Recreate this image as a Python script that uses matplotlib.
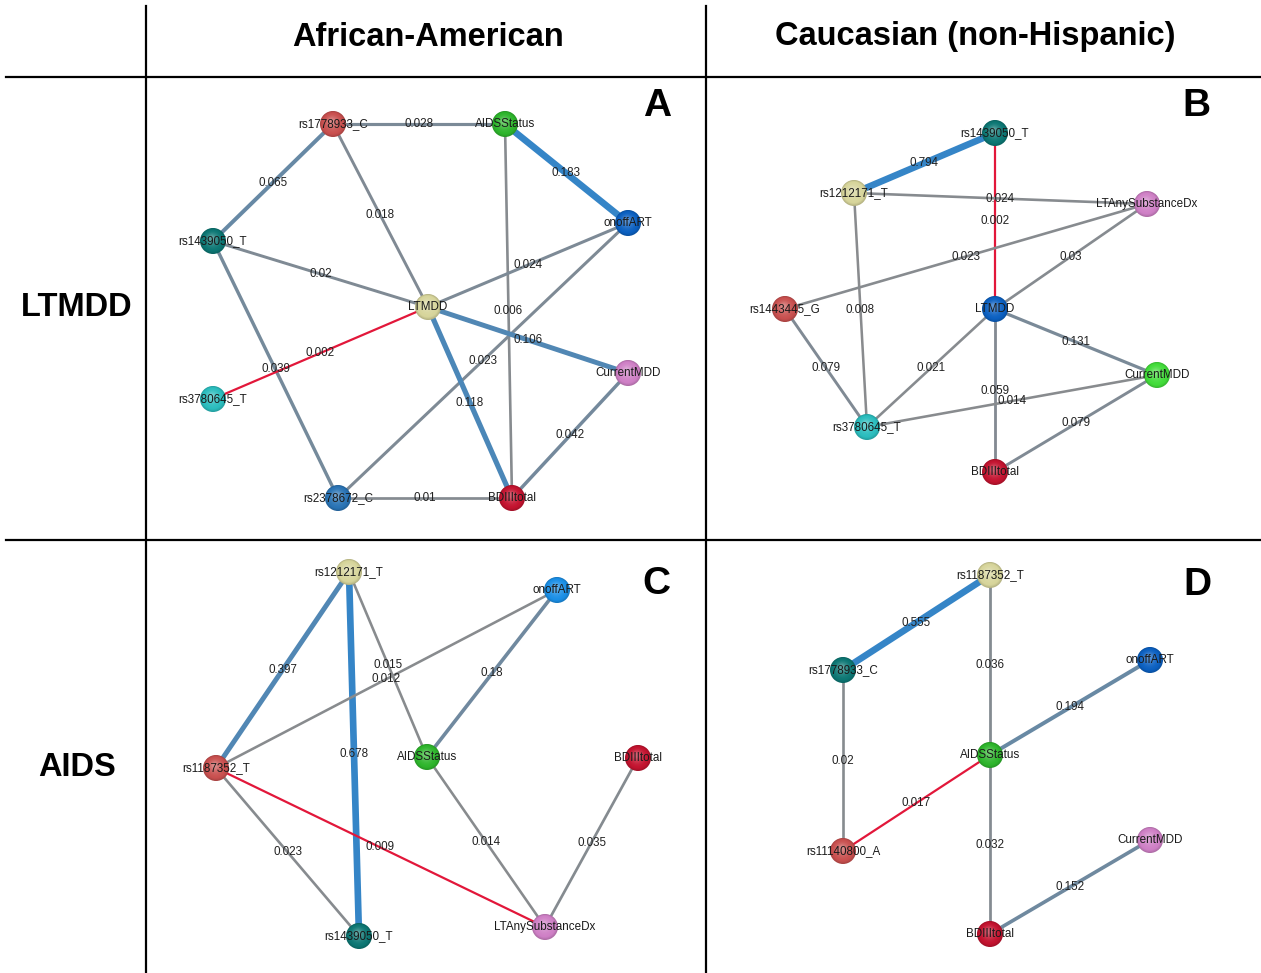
import matplotlib
matplotlib.use("Agg")
import matplotlib.pyplot as plt
from matplotlib.patches import Circle
from matplotlib.colors import to_rgb
import numpy as np

# ---------------------------------------------------------------- data
col_headers = ["African-American", "Caucasian (non-Hispanic)"]
row_headers = ["LTMDD", "AIDS"]
panel_letters = ["A", "B", "C", "D"]

# edges: (node, node, weight, sign)  sign -1 = inverse association
edges_A = [
    ("rs1778933_C", "AIDSStatus", 0.028, 1),
    ("rs1778933_C", "rs1439050_T", 0.065, 1),
    ("rs1778933_C", "LTMDD", 0.018, 1),
    ("AIDSStatus", "onoffART", 0.183, 1),
    ("AIDSStatus", "BDIIItotal", 0.006, 1),
    ("onoffART", "LTMDD", 0.024, 1),
    ("onoffART", "rs2378672_C", 0.023, 1),
    ("rs1439050_T", "LTMDD", 0.02, 1),
    ("rs1439050_T", "rs2378672_C", 0.039, 1),
    ("rs3780645_T", "LTMDD", 0.002, -1),
    ("LTMDD", "CurrentMDD", 0.106, 1),
    ("LTMDD", "BDIIItotal", 0.118, 1),
    ("CurrentMDD", "BDIIItotal", 0.042, 1),
    ("rs2378672_C", "BDIIItotal", 0.01, 1),
]
edges_B = [
    ("rs1439050_T", "rs1212171_T", 0.794, 1),
    ("rs1439050_T", "LTMDD", 0.002, -1),
    ("rs1212171_T", "LTAnySubstanceDx", 0.024, 1),
    ("rs1212171_T", "rs3780645_T", 0.008, 1),
    ("LTAnySubstanceDx", "rs1443445_G", 0.023, 1),
    ("LTAnySubstanceDx", "LTMDD", 0.03, 1),
    ("rs1443445_G", "rs3780645_T", 0.079, 1),
    ("LTMDD", "rs3780645_T", 0.021, 1),
    ("LTMDD", "CurrentMDD", 0.131, 1),
    ("LTMDD", "BDIIItotal", 0.059, 1),
    ("rs3780645_T", "CurrentMDD", 0.014, 1),
    ("CurrentMDD", "BDIIItotal", 0.079, 1),
]
edges_C = [
    ("rs1212171_T", "rs1187352_T", 0.397, 1),
    ("rs1212171_T", "rs1439050_T", 0.678, 1),
    ("rs1212171_T", "AIDSStatus", 0.015, 1),
    ("onoffART", "rs1187352_T", 0.012, 1),
    ("onoffART", "AIDSStatus", 0.18, 1),
    ("rs1187352_T", "LTAnySubstanceDx", 0.009, -1),
    ("rs1187352_T", "rs1439050_T", 0.023, 1),
    ("AIDSStatus", "LTAnySubstanceDx", 0.014, 1),
    ("BDIIItotal", "LTAnySubstanceDx", 0.035, 1),
]
edges_D = [
    ("rs1187352_T", "rs1778933_C", 0.555, 1),
    ("rs1187352_T", "AIDSStatus", 0.036, 1),
    ("rs1778933_C", "rs11140800_A", 0.02, 1),
    ("onoffART", "AIDSStatus", 0.194, 1),
    ("AIDSStatus", "rs11140800_A", 0.017, -1),
    ("AIDSStatus", "BDIIItotal", 0.032, 1),
    ("CurrentMDD", "BDIIItotal", 0.152, 1),
]

# ---------------------------------------------------------------- layout (pixel space)
layout_A = {
    "rs1778933_C": (333, 124), "AIDSStatus": (505, 124), "onoffART": (628, 223),
    "rs1439050_T": (213, 241), "LTMDD": (428, 307), "CurrentMDD": (628, 373),
    "rs3780645_T": (213, 399), "rs2378672_C": (338, 498), "BDIIItotal": (512, 498),
}
layout_B = {
    "rs1439050_T": (995, 133), "rs1212171_T": (854, 193), "LTAnySubstanceDx": (1147, 204),
    "rs1443445_G": (785, 309), "LTMDD": (995, 309), "CurrentMDD": (1157, 375),
    "rs3780645_T": (867, 427), "BDIIItotal": (995, 472),
}
layout_C = {
    "rs1212171_T": (349, 572), "onoffART": (557, 590), "rs1187352_T": (216, 768),
    "AIDSStatus": (427, 757), "BDIIItotal": (638, 758), "rs1439050_T": (359, 936),
    "LTAnySubstanceDx": (545, 927),
}
layout_D = {
    "rs1187352_T": (990, 575), "rs1778933_C": (843, 670), "onoffART": (1150, 660),
    "AIDSStatus": (990, 755), "rs11140800_A": (843, 851), "CurrentMDD": (1150, 840),
    "BDIIItotal": (990, 934),
}

# ---------------------------------------------------------------- node colours
RED, GREEN, TEAL, KHAKI = "#c9504f", "#2eb52c", "#0c7774", "#d7d59b"
ORCHID, CYAN, CRIMSON, BLUE = "#cf80c6", "#2bbdbe", "#c3132f", "#0b60c1"
colors_A = {"rs1778933_C": RED, "AIDSStatus": GREEN, "onoffART": BLUE,
            "rs1439050_T": TEAL, "LTMDD": KHAKI, "CurrentMDD": ORCHID,
            "rs3780645_T": CYAN, "rs2378672_C": "#2a74b5", "BDIIItotal": CRIMSON}
colors_B = {"rs1439050_T": TEAL, "rs1212171_T": KHAKI, "LTAnySubstanceDx": ORCHID,
            "rs1443445_G": RED, "LTMDD": BLUE, "CurrentMDD": "#42dc3a",
            "rs3780645_T": CYAN, "BDIIItotal": CRIMSON}
colors_C = {"rs1212171_T": KHAKI, "onoffART": "#1b8fe6", "rs1187352_T": RED,
            "AIDSStatus": GREEN, "BDIIItotal": CRIMSON, "rs1439050_T": TEAL,
            "LTAnySubstanceDx": ORCHID}
colors_D = {"rs1187352_T": KHAKI, "rs1778933_C": TEAL, "onoffART": BLUE,
            "AIDSStatus": GREEN, "rs11140800_A": RED, "CurrentMDD": ORCHID,
            "BDIIItotal": CRIMSON}

W, H = 1261, 973
fig = plt.figure(figsize=(W / 100, H / 100), dpi=100)
ax = fig.add_axes([0, 0, 1, 1])
ax.set_xlim(0, W)
ax.set_ylim(H, 0)
ax.set_aspect("equal")
ax.axis("off")

FONT = "Liberation Sans"
GRAY = np.array(to_rgb("#8a8b8d"))
EDGE_BLUE = np.array(to_rgb("#3585c7"))
NEG_RED = "#e2173a"
R_NODE = 13


def sphere(x, y, r, color):
    """Shaded ball: slightly darker rim, lighter highlight toward the top."""
    base = np.array(to_rgb(color))
    dark = base * 0.84
    light = base + (1 - base) * 0.32
    n = 18
    for i in range(n):
        f = i / (n - 1)
        rr = r * (1 - 0.82 * f)
        cx = x - 0.10 * r * f
        cy = y - 0.20 * r * f
        if f < 0.2:
            c = dark + (base - dark) * (f / 0.2)
        else:
            c = base + (light - base) * ((f - 0.2) / 0.8) ** 1.6
        ax.add_patch(Circle((cx, cy), rr, facecolor=np.clip(c, 0, 1),
                            edgecolor="none", zorder=3))


def draw_network(edges, layout, colors):
    wmax = max(e[2] for e in edges)
    for a, b, w, s in edges:
        (x0, y0), (x1, y1) = layout[a], layout[b]
        t = w / wmax
        if s < 0:
            col, lw = NEG_RED, 1.6
        else:
            col = GRAY + (EDGE_BLUE - GRAY) * min(1.0, t * 1.15)
            lw = 1.8 + 3.0 * t
        ax.plot([x0, x1], [y0, y1], color=col, lw=lw, solid_capstyle="butt",
                zorder=1)
        ax.text((x0 + x1) / 2, (y0 + y1) / 2, f"{w:g}", fontsize=8.4,
                family=FONT, color="#222222", ha="center", va="center",
                zorder=2)
    for name, (x, y) in layout.items():
        sphere(x, y, R_NODE, colors[name])
        ax.text(x, y, name, fontsize=8.4, family=FONT, color="#1a1a1a",
                ha="center", va="center", zorder=4)


draw_network(edges_A, layout_A, colors_A)
draw_network(edges_B, layout_B, colors_B)
draw_network(edges_C, layout_C, colors_C)
draw_network(edges_D, layout_D, colors_D)

# table frame
for xv in (146, 706):
    ax.plot([xv, xv], [6, H], color="black", lw=1.6, zorder=0)
for yh in (77, 540):
    ax.plot([6, W], [yh, yh], color="black", lw=1.6, zorder=0)

# headers
for label, xc in zip(col_headers, (428, 975)):
    ax.text(xc, 37, label, fontsize=23.5, family=FONT, weight="bold",
            ha="center", va="center")
for label, yc in zip(row_headers, (307, 768)):
    ax.text(77, yc, label, fontsize=23.5, family=FONT, weight="bold",
            ha="center", va="center")
for label, (xc, yc) in zip(panel_letters,
                           [(657, 106), (1196, 106), (656, 584), (1197, 585)]):
    ax.text(xc, yc, label, fontsize=28, family=FONT, weight="bold",
            ha="center", va="center")

fig.savefig("out.png", dpi=100, facecolor="white")
